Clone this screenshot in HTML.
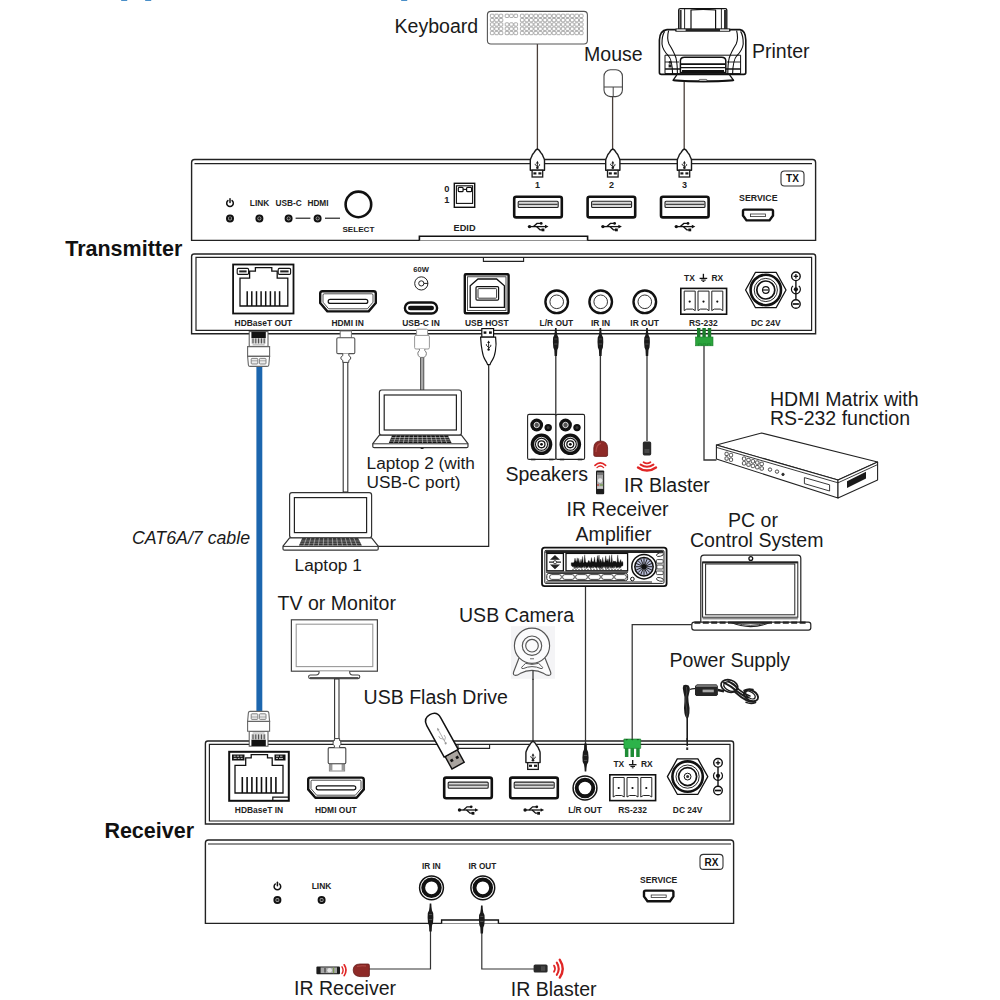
<!DOCTYPE html>
<html><head><meta charset="utf-8">
<style>
html,body{margin:0;padding:0;background:#fff;}
body{width:1000px;height:1000px;overflow:hidden;font-family:"Liberation Sans",sans-serif;}
svg{display:block;position:absolute;left:0;top:0;}
text{font-family:"Liberation Sans",sans-serif;}
.lb{font-size:19.55px;fill:#1a1a1a;}
.ls{font-size:17.25px;fill:#1a1a1a;}
.pl{font-size:8.45px;font-weight:bold;fill:#222;}
.hd{font-size:21.5px;font-weight:bold;fill:#111;}
</style></head><body>
<svg width="1000" height="1000" viewBox="0 0 1000 1000">
<defs>
<!-- USB-A receptacle 50x23 origin top-left -->
<g id="usba">
<rect x="1.2" y="1.2" width="47.6" height="20.6" rx="2" fill="#fff" stroke="#111" stroke-width="2.6"/>
<rect x="5.2" y="5.7" width="40" height="6.2" rx="1" fill="#d8d8d8" stroke="#222" stroke-width="1.1"/>
<line x1="6" y1="8.8" x2="44.6" y2="8.8" stroke="#444" stroke-width="1.3"/>
</g>
<!-- USB trident symbol centered at 0,0 width ~20 -->
<g id="usbsym" stroke="#111" fill="#111" stroke-width="1.3">
<line x1="-8" y1="0" x2="8" y2="0"/>
<circle cx="-8.5" cy="0" r="1.7" stroke="none"/>
<path d="M10.5 0 L7 -1.8 L7 1.8 Z" stroke="none"/>
<path d="M-4.5 0 L-1 -3.2 L2.5 -3.2" fill="none"/>
<circle cx="3.2" cy="-3.2" r="1.4" stroke="none"/>
<path d="M-1.5 0 L2 3.2 L4 3.2" fill="none"/>
<rect x="3.6" y="1.9" width="2.8" height="2.8" stroke="none"/>
</g>
<!-- 3.5mm jack centered -->
<g id="jackT">
<circle r="11.3" fill="#fff" stroke="#111" stroke-width="2.4"/>
<circle r="6.8" fill="#fff" stroke="#333" stroke-width="1"/>
</g>
<g id="jackR">
<circle r="11.9" fill="#fff" stroke="#111" stroke-width="1.5"/>
<circle r="8.3" fill="#fff" stroke="#111" stroke-width="3.9"/>
</g>
<!-- LED -->
<g id="led">
<circle r="3" fill="#bbb" stroke="#111" stroke-width="2"/>
<circle r="1.3" fill="#222"/>
</g>
<!-- power icon -->
<g id="pwr" fill="none" stroke="#111" stroke-width="1.5" stroke-linecap="round">
<path d="M-2.1 -2.4 A3.3 3.3 0 1 0 2.1 -2.4"/>
<line x1="0" y1="-4.2" x2="0" y2="-0.6"/>
</g>
<!-- usb plug (pointing down), origin = center x, top y=0 ; total height 27 -->
<g id="usbplug">
<path d="M0 -1 C-1.6 -0.4 -2.4 0.8 -3.2 2.4 C-4 3.6 -5 4.2 -5.4 5.6 C-5.8 7.4 -7.1 8.2 -7.1 10.4 L-7.1 20.2 L7.1 20.2 L7.1 10.4 C7.1 8.2 5.8 7.4 5.4 5.6 C5 4.2 4 3.6 3.2 2.4 C2.4 0.8 1.6 -0.4 0 -1Z" fill="#fff" stroke="#1a1a1a" stroke-width="1.4" stroke-linejoin="round"/>
<rect x="-5.3" y="20.2" width="10.6" height="6.8" fill="#fff" stroke="#1a1a1a" stroke-width="1.3"/>
<rect x="-4" y="22.3" width="3" height="2.2" fill="#1a1a1a"/>
<rect x="1" y="22.3" width="3" height="2.2" fill="#1a1a1a"/>
<g stroke="#1a1a1a" stroke-width="0.9" fill="#1a1a1a">
<line x1="0" y1="12.6" x2="0" y2="17.6"/>
<path d="M0 10.8 L-1.4 13.4 L1.4 13.4Z" stroke="none"/>
<circle cx="0" cy="17.8" r="1.3" stroke="none"/>
<path d="M0 16.4 L-2.2 14.8 L-2.2 13.8" fill="none"/>
<path d="M0 17 L2.2 15.4 L2.2 14.2" fill="none"/>
</g>
</g>
<!-- 3.5mm plug pointing down; origin center x top -->
<g id="miniplug">
<line x1="0" y1="0" x2="0" y2="8" stroke="#222" stroke-width="1.3"/>
<path d="M-1.3 7 L1.3 7 L1.8 12 L1.8 19 L1 21 L1 27 L-1 27 L-1 21 L-1.8 19 L-1.8 12Z" fill="#222"/>
</g>
<!-- RS232 block 47x27 -->
<g id="rs232">
<rect x="0.8" y="0.8" width="45.8" height="25.8" fill="#fff" stroke="#111" stroke-width="1.6"/>
<g fill="#fff" stroke="#222" stroke-width="1">
<path d="M4.2 3.5 h11 v19.5 l-2.5 -1.5 h-6 l-2.5 1.5Z"/>
<path d="M18 3.5 h11 v19.5 l-2.5 -1.5 h-6 l-2.5 1.5Z"/>
<path d="M31.8 3.5 h11 v19.5 l-2.5 -1.5 h-6 l-2.5 1.5Z"/>
</g>
<circle cx="9.7" cy="14" r="1.1" fill="#111"/><circle cx="23.5" cy="14" r="1.1" fill="#111"/><circle cx="37.3" cy="14" r="1.1" fill="#111"/>
</g>
<!-- ground sym centered -->
<g id="gnd" stroke="#111" stroke-width="1.3" fill="none">
<line x1="0" y1="-4" x2="0" y2="0.6"/><line x1="-3.8" y1="0.6" x2="3.8" y2="0.6"/><line x1="-2.3" y1="2.3" x2="2.3" y2="2.3" stroke-width="1.1"/><line x1="-0.9" y1="3.7" x2="0.9" y2="3.7" stroke-width="1"/>
</g>
<!-- polarity symbol origin center of middle -->
<g id="pol" stroke="#111" fill="none" stroke-width="1.4">
<circle cx="0" cy="-13" r="4.3"/><line x1="-2.2" y1="-13" x2="2.2" y2="-13" stroke-width="1.3"/><line x1="0" y1="-15.2" x2="0" y2="-10.8" stroke-width="1.3"/>
<circle cx="0" cy="14.7" r="4.3"/><line x1="-3" y1="14.7" x2="3" y2="14.7" stroke-width="1.7"/>
<line x1="0" y1="-8.7" x2="0" y2="10.4"/>
<path d="M-2.9 -3.4 A4.5 4.5 0 1 0 2.9 -3.4" stroke-width="1.2"/>
<circle cx="0" cy="0" r="2.1" fill="#111" stroke="none"/>
</g>
<!-- green connector -->
<g id="grn">
<rect x="-7.4" y="9" width="3.5" height="9" fill="#1e8c35"/>
<rect x="-1.8" y="9" width="3.5" height="9" fill="#1e8c35"/>
<rect x="3.9" y="9" width="3.5" height="9" fill="#1e8c35"/>
<path d="M-8.4 0 H8.4 V9.4 H-8.4 Z" fill="#2db34a" stroke="#1d7d2c" stroke-width="0.6"/>
<path d="M-7 0 l1.4 1.6 l1.4 -1.6 M-1.4 0 l1.4 1.6 l1.4 -1.6 M4.2 0 l1.4 1.6 l1.4 -1.6" fill="#145c22" stroke="none"/>
</g>

<!-- RJ45 port 62x51 origin top-left -->
<g id="rj45">
<rect x="0.9" y="0.9" width="60.4" height="49" fill="#fff" stroke="#111" stroke-width="1.8"/>
<path d="M7.8 42.4 V14.6 H17.4 V7.6 H23.2 V4 H39.6 V7.6 H45 V14.6 H55.6 V42.4 Z" fill="#fff" stroke="#111" stroke-width="1.3"/>
<rect x="5" y="4.8" width="11.4" height="6" rx="1.2" fill="#fff" stroke="#111" stroke-width="1.1"/>
<rect x="7" y="6.8" width="7.4" height="2" fill="#222"/>
<rect x="46" y="4.8" width="12.4" height="6" rx="1.2" fill="#fff" stroke="#111" stroke-width="1.1"/>
<rect x="48" y="6.8" width="8.4" height="2" fill="#222"/>
<g stroke="#111" stroke-width="1.5">
<line x1="15" y1="27.6" x2="15" y2="42.4"/><line x1="19.6" y1="27.6" x2="19.6" y2="42.4"/><line x1="24.3" y1="27.6" x2="24.3" y2="42.4"/><line x1="28.9" y1="27.6" x2="28.9" y2="42.4"/><line x1="33.5" y1="27.6" x2="33.5" y2="42.4"/><line x1="38.2" y1="27.6" x2="38.2" y2="42.4"/><line x1="42.8" y1="27.6" x2="42.8" y2="42.4"/><line x1="47.4" y1="27.6" x2="47.4" y2="42.4"/>
</g>
</g>
<!-- HDMI port 58x22.6 origin top-left -->
<g id="hdmi">
<path d="M3.4 1.2 H54.6 Q56.8 1.2 56.8 3.4 V13 L49.6 21.4 H8.4 L1.2 13 V3.4 Q1.2 1.2 3.4 1.2Z" fill="#fff" stroke="#111" stroke-width="2.4" stroke-linejoin="round"/>
<path d="M5.2 3.8 H52.8 Q54 3.8 54 5 V12.2 L48.4 18.8 H9.6 L4 12.2 V5 Q4 3.8 5.2 3.8Z" fill="none" stroke="#222" stroke-width="0.8"/>
<rect x="9.2" y="9.4" width="39.6" height="4" rx="2" fill="#fff" stroke="#111" stroke-width="1.2"/>
</g>
<!-- DC jack hex centered -->
<g id="dcjack">
<path d="M-20.2 0 L-10.3 -17.7 H10.3 L20.2 0 L10.3 17.7 H-10.3 Z" fill="#fff" stroke="#111" stroke-width="1.3" stroke-linejoin="round"/>
<circle r="15.2" fill="#fff" stroke="#111" stroke-width="2.6"/>
<circle r="11.6" fill="none" stroke="#111" stroke-width="0.9"/>
<circle r="9" fill="none" stroke="#111" stroke-width="1.7"/>
</g>

<!-- mini plug, tip UP at y=0, total 28 tall -->
<g id="miniU">
<path d="M-0.8 0 L0.8 0 L1 3.5 L1.5 7 L2.7 9.5 L2.9 14 L2.5 19.5 L1.5 22 L1.2 28 L-1.2 28 L-1.5 22 L-2.5 19.5 L-2.9 14 L-2.7 9.5 L-1.5 7 L-1 3.5 Z" fill="#1a1a1a"/>
<path d="M-1.5 11 h3 M-1.6 16 h3.2" stroke="#666" stroke-width="0.7"/>
</g>
<!-- mini plug, tip DOWN ending at y=28 -->
<g id="miniD">
<path d="M-0.8 28 L0.8 28 L1 24.5 L1.5 21 L2.8 18.5 L3.1 14 L2.6 8.5 L1.5 6 L1.2 0 L-1.2 0 L-1.5 6 L-2.6 8.5 L-3.1 14 L-2.8 18.5 L-1.5 21 L-1 24.5 Z" fill="#1a1a1a"/>
<path d="M-1.6 12 h3.2 M-1.6 17 h3.2" stroke="#666" stroke-width="0.7"/>
</g>
<!-- RJ45 plug, contacts UP. origin center x, top y=0. height ~36 -->
<g id="rjU">
<rect x="-9.4" y="0.2" width="18.8" height="14.8" fill="#fff" stroke="#555" stroke-width="1"/>
<rect x="-7.2" y="0.4" width="14.4" height="6.4" fill="#111"/>
<rect x="-7.2" y="6.8" width="14.4" height="5.4" fill="#ccc"/>
<g stroke="#444" stroke-width="1"><line x1="-5.6" y1="7" x2="-5.6" y2="12"/><line x1="-2.8" y1="7" x2="-2.8" y2="12"/><line x1="0" y1="7" x2="0" y2="12"/><line x1="2.8" y1="7" x2="2.8" y2="12"/><line x1="5.6" y1="7" x2="5.6" y2="12"/></g>
<line x1="-6" y1="13.4" x2="6" y2="13.4" stroke="#999" stroke-width="0.8"/>
<path d="M-11 15.2 H11 V25 H-11 Z" fill="#fff" stroke="#666" stroke-width="1.1"/>
<path d="M-11 25 H11 L10.2 33.6 Q10 35 8.6 35 H-8.6 Q-10 35 -10.2 33.6 Z" fill="#fff" stroke="#666" stroke-width="1.1"/>
<rect x="-7.4" y="27" width="6.6" height="5.6" rx="0.8" fill="#ececec" stroke="#777" stroke-width="0.9"/>
<rect x="0.8" y="27" width="6.6" height="5.6" rx="0.8" fill="#ececec" stroke="#777" stroke-width="0.9"/>
<line x1="-7.4" y1="29.4" x2="-0.8" y2="29.4" stroke="#888" stroke-width="0.7"/><line x1="0.8" y1="29.4" x2="7.4" y2="29.4" stroke="#888" stroke-width="0.7"/>
</g>
<!-- HDMI plug, tip UP. origin center x, top y=0 -->
<g id="hdmiU">
<rect x="-5.6" y="0" width="11.2" height="7" fill="#fff" stroke="#777" stroke-width="1"/>
<rect x="-9" y="6.8" width="18" height="15.8" rx="1.2" fill="#fff" stroke="#555" stroke-width="1.1"/>
<path d="M-3 22.6 V24.6 Q-5 25.6 -5 27 Q-5 28.6 -3 29.4 V31.4 H3 V29.4 Q5 28.6 5 27 Q5 25.6 3 24.6 V22.6" fill="#fff" stroke="#444" stroke-width="1"/>
</g>
<!-- HDMI plug, tip DOWN. origin center x, bottom tip y=0 (extends upward) -->
<g id="hdmiD">
<rect x="-7.6" y="-7.4" width="15.2" height="7.4" fill="#fff" stroke="#888" stroke-width="1"/>
<rect x="-7.2" y="-7.2" width="2.6" height="6.8" fill="#999"/><rect x="4.6" y="-7.2" width="2.6" height="6.8" fill="#999"/>
<rect x="-8.8" y="-23.4" width="17.6" height="16.2" rx="1.2" fill="#fff" stroke="#444" stroke-width="1.1"/>
<path d="M-2.6 -23.4 V-25.2 Q-4 -26.2 -4 -27.8 Q-4 -29.6 -2.6 -30.4 V-32.4 H2.6 V-30.4 Q4 -29.6 4 -27.8 Q4 -26.2 2.6 -25.2 V-23.4" fill="#fff" stroke="#444" stroke-width="1"/>
</g>
</defs>

<rect width="1000" height="1000" fill="#fff"/>

<!-- ===== TX FRONT PANEL ===== -->
<g id="txfront">
<path d="M191.6 240.4 V162.5 Q191.6 159.5 194.6 159.5 H812.6 Q815.6 159.5 815.6 162.5 V240.4 Z" fill="#fff" stroke="#222" stroke-width="1.4"/>
<line x1="194.5" y1="163.6" x2="812" y2="163.6" stroke="#222" stroke-width="1.2"/>
<path d="M419.4 240.4 V236.2 H587.6 V240.4" fill="#fff" stroke="#111" stroke-width="1.6"/>
<use href="#pwr" x="230" y="203"/>
<use href="#led" x="230" y="218.4"/><use href="#led" x="259.4" y="218.4"/><use href="#led" x="288.6" y="218.4"/><use href="#led" x="317.6" y="218.4"/>
<line x1="295.6" y1="218.2" x2="310.4" y2="218.2" stroke="#111" stroke-width="1.1"/>
<line x1="325" y1="218.2" x2="340" y2="218.2" stroke="#111" stroke-width="1.1"/>
<text class="pl" x="259.5" y="205.6" text-anchor="middle" style="font-size:8.3px">LINK</text>
<text class="pl" x="288.7" y="205.6" text-anchor="middle" style="font-size:8.3px">USB-C</text>
<text class="pl" x="318" y="205.6" text-anchor="middle" style="font-size:8.3px">HDMI</text>
<circle cx="358.4" cy="204.4" r="12.8" fill="#fff" stroke="#111" stroke-width="2.6"/>
<text class="pl" x="358.4" y="231.6" text-anchor="middle" style="font-size:8.1px">SELECT</text>
<rect x="454.3" y="183.3" width="20.4" height="24" fill="#fff" stroke="#111" stroke-width="1.4"/>
<rect x="456.4" y="185.8" width="16.2" height="17.6" fill="#fff" stroke="#111" stroke-width="1.1"/>
<rect x="458.3" y="187.3" width="4.8" height="4.4" rx="1" fill="#fff" stroke="#111" stroke-width="1.2"/>
<rect x="466.6" y="187.3" width="5" height="4.4" rx="1" fill="#fff" stroke="#111" stroke-width="1.2"/>
<line x1="463.2" y1="189.4" x2="466.6" y2="189.4" stroke="#111" stroke-width="1.1"/>
<text class="pl" x="446.8" y="191.8" text-anchor="middle" style="font-size:9.3px">0</text>
<text class="pl" x="446.8" y="203.2" text-anchor="middle" style="font-size:9.3px">1</text>
<text class="pl" x="464.6" y="230.5" text-anchor="middle" style="font-size:9.2px">EDID</text>
<use href="#usba" x="513" y="195.6"/><use href="#usba" x="586.4" y="195.6"/><use href="#usba" x="659.8" y="195.6"/>
<use href="#usbsym" x="538" y="226.6"/><use href="#usbsym" x="611.4" y="226.6"/><use href="#usbsym" x="684.8" y="226.6"/>
<text class="pl" x="537.6" y="187.7" text-anchor="middle" style="font-size:9px">1</text>
<text class="pl" x="611.4" y="187.7" text-anchor="middle" style="font-size:9px">2</text>
<text class="pl" x="684.4" y="187.7" text-anchor="middle" style="font-size:9px">3</text>
<text class="pl" x="758.3" y="200.9" text-anchor="middle" style="font-size:8.8px">SERVICE</text>
<path d="M744.5 209.6 H771.5 Q773 209.6 773 211.1 V215.5 L769.5 220.4 H746.5 L743 215.5 V211.1 Q743 209.6 744.5 209.6Z" fill="#fff" stroke="#111" stroke-width="2.4"/>
<rect x="750.5" y="214" width="15" height="2.6" fill="#fff" stroke="#333" stroke-width="0.8"/>
<rect x="781" y="171" width="23" height="15" rx="3.5" fill="#fff" stroke="#333" stroke-width="1.1"/>
<text x="792.5" y="182.2" text-anchor="middle" style="font-size:10px;font-weight:bold;fill:#111">TX</text>
</g>


<!-- ===== TOP DEVICES ===== -->
<g id="topdev">
<g stroke="#4a3f3a" stroke-width="1.3" fill="none">
<line x1="537.4" y1="44" x2="537.4" y2="151"/>
<line x1="612.6" y1="96.6" x2="612.6" y2="151"/>
<line x1="684.2" y1="82" x2="684.2" y2="151"/>
</g>
<rect x="487.4" y="11.4" width="100" height="32.6" rx="3.5" fill="#fff" stroke="#555" stroke-width="1.1"/>
<g fill="#fff" stroke="#8a8a8a" stroke-width="0.7"><rect x="490.4" y="14.2" width="3.6" height="3.3" rx="0.8"/><rect x="494.8" y="14.2" width="3.6" height="3.3" rx="0.8"/><rect x="499.2" y="14.2" width="3.6" height="3.3" rx="0.8"/><rect x="505.2" y="14.2" width="3.6" height="3.3" rx="0.8"/><rect x="509.6" y="14.2" width="3.6" height="3.3" rx="0.8"/><rect x="514.0" y="14.2" width="3.6" height="3.3" rx="0.8"/><rect x="520.4" y="14.2" width="3.6" height="3.3" rx="0.8"/><rect x="524.9" y="14.2" width="3.6" height="3.3" rx="0.8"/><rect x="529.5" y="14.2" width="3.6" height="3.3" rx="0.8"/><rect x="534.0" y="14.2" width="3.6" height="3.3" rx="0.8"/><rect x="538.6" y="14.2" width="3.6" height="3.3" rx="0.8"/><rect x="543.1" y="14.2" width="3.6" height="3.3" rx="0.8"/><rect x="547.7" y="14.2" width="3.6" height="3.3" rx="0.8"/><rect x="552.2" y="14.2" width="3.6" height="3.3" rx="0.8"/><rect x="556.7" y="14.2" width="3.6" height="3.3" rx="0.8"/><rect x="561.3" y="14.2" width="3.6" height="3.3" rx="0.8"/><rect x="565.8" y="14.2" width="3.6" height="3.3" rx="0.8"/><rect x="570.4" y="14.2" width="3.6" height="3.3" rx="0.8"/><rect x="574.9" y="14.2" width="3.6" height="3.3" rx="0.8"/><rect x="579.5" y="14.2" width="3.6" height="3.3" rx="0.8"/><rect x="490.4" y="18.5" width="3.6" height="3.3" rx="0.8"/><rect x="494.8" y="18.5" width="3.6" height="3.3" rx="0.8"/><rect x="499.2" y="18.5" width="3.6" height="3.3" rx="0.8"/><rect x="520.4" y="18.5" width="3.6" height="3.3" rx="0.8"/><rect x="524.9" y="18.5" width="3.6" height="3.3" rx="0.8"/><rect x="529.5" y="18.5" width="3.6" height="3.3" rx="0.8"/><rect x="534.0" y="18.5" width="3.6" height="3.3" rx="0.8"/><rect x="538.6" y="18.5" width="3.6" height="3.3" rx="0.8"/><rect x="543.1" y="18.5" width="3.6" height="3.3" rx="0.8"/><rect x="547.7" y="18.5" width="3.6" height="3.3" rx="0.8"/><rect x="552.2" y="18.5" width="3.6" height="3.3" rx="0.8"/><rect x="556.7" y="18.5" width="3.6" height="3.3" rx="0.8"/><rect x="561.3" y="18.5" width="3.6" height="3.3" rx="0.8"/><rect x="565.8" y="18.5" width="3.6" height="3.3" rx="0.8"/><rect x="570.4" y="18.5" width="3.6" height="3.3" rx="0.8"/><rect x="574.9" y="18.5" width="3.6" height="3.3" rx="0.8"/><rect x="579.5" y="18.5" width="3.6" height="3.3" rx="0.8"/><rect x="490.4" y="22.8" width="3.6" height="3.3" rx="0.8"/><rect x="494.8" y="22.8" width="3.6" height="3.3" rx="0.8"/><rect x="499.2" y="22.8" width="3.6" height="3.3" rx="0.8"/><rect x="505.2" y="22.8" width="3.6" height="3.3" rx="0.8"/><rect x="509.6" y="22.8" width="3.6" height="3.3" rx="0.8"/><rect x="514.0" y="22.8" width="3.6" height="3.3" rx="0.8"/><rect x="520.4" y="22.8" width="3.6" height="3.3" rx="0.8"/><rect x="524.9" y="22.8" width="3.6" height="3.3" rx="0.8"/><rect x="529.5" y="22.8" width="3.6" height="3.3" rx="0.8"/><rect x="534.0" y="22.8" width="3.6" height="3.3" rx="0.8"/><rect x="538.6" y="22.8" width="3.6" height="3.3" rx="0.8"/><rect x="543.1" y="22.8" width="3.6" height="3.3" rx="0.8"/><rect x="547.7" y="22.8" width="3.6" height="3.3" rx="0.8"/><rect x="552.2" y="22.8" width="3.6" height="3.3" rx="0.8"/><rect x="556.7" y="22.8" width="3.6" height="3.3" rx="0.8"/><rect x="561.3" y="22.8" width="3.6" height="3.3" rx="0.8"/><rect x="565.8" y="22.8" width="3.6" height="3.3" rx="0.8"/><rect x="570.4" y="22.8" width="3.6" height="3.3" rx="0.8"/><rect x="574.9" y="22.8" width="3.6" height="3.3" rx="0.8"/><rect x="579.5" y="22.8" width="3.6" height="3.3" rx="0.8"/><rect x="490.4" y="27.1" width="3.6" height="3.3" rx="0.8"/><rect x="494.8" y="27.1" width="3.6" height="3.3" rx="0.8"/><rect x="499.2" y="27.1" width="3.6" height="3.3" rx="0.8"/><rect x="505.2" y="27.1" width="3.6" height="3.3" rx="0.8"/><rect x="509.6" y="27.1" width="3.6" height="3.3" rx="0.8"/><rect x="514.0" y="27.1" width="3.6" height="3.3" rx="0.8"/><rect x="520.4" y="27.1" width="3.6" height="3.3" rx="0.8"/><rect x="524.9" y="27.1" width="3.6" height="3.3" rx="0.8"/><rect x="529.5" y="27.1" width="3.6" height="3.3" rx="0.8"/><rect x="534.0" y="27.1" width="3.6" height="3.3" rx="0.8"/><rect x="538.6" y="27.1" width="3.6" height="3.3" rx="0.8"/><rect x="543.1" y="27.1" width="3.6" height="3.3" rx="0.8"/><rect x="547.7" y="27.1" width="3.6" height="3.3" rx="0.8"/><rect x="552.2" y="27.1" width="3.6" height="3.3" rx="0.8"/><rect x="556.7" y="27.1" width="3.6" height="3.3" rx="0.8"/><rect x="561.3" y="27.1" width="3.6" height="3.3" rx="0.8"/><rect x="565.8" y="27.1" width="3.6" height="3.3" rx="0.8"/><rect x="570.4" y="27.1" width="3.6" height="3.3" rx="0.8"/><rect x="574.9" y="27.1" width="3.6" height="3.3" rx="0.8"/><rect x="579.5" y="27.1" width="3.6" height="3.3" rx="0.8"/><rect x="490.4" y="31.4" width="3.6" height="3.3" rx="0.8"/><rect x="494.8" y="31.4" width="3.6" height="3.3" rx="0.8"/><rect x="499.2" y="31.4" width="3.6" height="3.3" rx="0.8"/><rect x="505.2" y="31.4" width="3.6" height="3.3" rx="0.8"/><rect x="509.6" y="31.4" width="3.6" height="3.3" rx="0.8"/><rect x="514.0" y="31.4" width="3.6" height="3.3" rx="0.8"/><rect x="520.4" y="31.4" width="3.6" height="3.3" rx="0.8"/><rect x="524.9" y="31.4" width="3.6" height="3.3" rx="0.8"/><rect x="529.5" y="31.4" width="3.6" height="3.3" rx="0.8"/><rect x="534.0" y="31.4" width="3.6" height="3.3" rx="0.8"/><rect x="538.6" y="31.4" width="3.6" height="3.3" rx="0.8"/><rect x="543.1" y="31.4" width="3.6" height="3.3" rx="0.8"/><rect x="547.7" y="31.4" width="3.6" height="3.3" rx="0.8"/><rect x="552.2" y="31.4" width="3.6" height="3.3" rx="0.8"/><rect x="556.7" y="31.4" width="3.6" height="3.3" rx="0.8"/><rect x="561.3" y="31.4" width="3.6" height="3.3" rx="0.8"/><rect x="565.8" y="31.4" width="3.6" height="3.3" rx="0.8"/><rect x="570.4" y="31.4" width="3.6" height="3.3" rx="0.8"/><rect x="574.9" y="31.4" width="3.6" height="3.3" rx="0.8"/><rect x="579.5" y="31.4" width="3.6" height="3.3" rx="0.8"/></g>
<rect x="604" y="69.8" width="18.4" height="26.8" rx="6.5" fill="#fff" stroke="#444" stroke-width="1.1"/>
<line x1="604" y1="87" x2="622.4" y2="87" stroke="#444" stroke-width="1"/>
<line x1="613.2" y1="87" x2="613.2" y2="96.6" stroke="#444" stroke-width="1"/>

<g id="printer" fill="#fff" stroke="#111" stroke-linejoin="round">
<!-- paper tray -->
<path d="M678.7 29.5 V10 Q678.7 8.6 680.2 8.6 H725.4 Q726.8 8.6 726.8 10 V29.5 Z" stroke-width="1.3"/>
<rect x="679.6" y="10" width="2" height="19" fill="#333" stroke="none"/>
<rect x="724" y="10" width="2" height="19" fill="#333" stroke="none"/>
<line x1="684.6" y1="9" x2="684.6" y2="29" stroke-width="0.9"/>
<line x1="721.4" y1="9" x2="721.4" y2="29" stroke-width="0.9"/>
<path d="M691 29.5 V10 Q703 8.6 715.6 10 V29.5" stroke-width="1.2"/>
<!-- body -->
<path d="M667 29.6 H740 Q745.6 30.6 745.8 40 V72.5 Q745.8 74.4 744 74.4 H661.4 Q659.4 74.4 659.4 72.5 V40 Q659.6 30.6 667 29.6Z" stroke-width="1.6"/>
<path d="M664.6 31.4 Q661.8 36 662 44 Q662.6 50 668.6 56 Q672.2 60 672.6 74" fill="none" stroke-width="1.1"/>
<path d="M668.6 30.6 Q666.6 38 669 44 Q674 52 676 58 Q677.4 64 677.4 74" fill="none" stroke-width="1.1"/>
<path d="M740.6 31.4 Q743.4 36 743.2 44 Q742.6 50 736.6 56 Q733 60 732.6 74" fill="none" stroke-width="1.1"/>
<path d="M736.6 30.6 Q738.6 38 736.2 44 Q731.2 52 729.2 58 Q727.8 64 727.8 74" fill="none" stroke-width="1.1"/>
<rect x="675" y="28.4" width="55.6" height="3.4" rx="1.2" fill="#222" stroke="none"/>
<rect x="676.6" y="29.4" width="9" height="1.4" fill="#fff" stroke="none"/><rect x="720" y="29.4" width="9" height="1.4" fill="#fff" stroke="none"/>
<!-- front band -->
<path d="M665 55.2 H740.6 V73.6 H665 Z" fill="none" stroke-width="1"/>
<line x1="665" y1="62" x2="679" y2="62" stroke-width="0.9"/><line x1="727" y1="62" x2="740.6" y2="62" stroke-width="0.9"/>
<line x1="665" y1="69" x2="740.6" y2="69" stroke-width="1.4"/>
<circle cx="670" cy="62.4" r="1.3" fill="#222" stroke="none"/><rect x="668.6" y="64.4" width="3" height="3" fill="#222" stroke="none"/>
<path d="M680.4 72.6 V60.6 Q680.6 57.2 684.4 57.2 H721.6 Q725.6 57.2 725.8 60.6 V72.6 Z" stroke-width="1.5"/>
<path d="M681 64.2 H725" stroke-width="1.8" fill="none"/>
<path d="M683 66.2 h4.5 m3 0 h5 m3 0 h5 m3 0 h5 m3 0 h5" stroke-width="1.3" stroke="#fff" fill="none"/>
<path d="M681 67.6 H725" stroke-width="1.2" fill="none"/>
<path d="M682 71.2 H724" stroke-width="2.2" fill="none"/>
<!-- tray -->
<path d="M677 74.6 H729.4 L733.6 80.4 Q703 82.4 673 80.4 Z" stroke-width="1.3"/>
<path d="M673.4 80.2 Q703 82.6 733.4 80.2" stroke-width="2" fill="none"/>
<rect x="699" y="79.4" width="8" height="1.6" rx="0.8" fill="#fff" stroke-width="0.6"/>
</g>
<use href="#usbplug" x="537.4" y="150"/>
<use href="#usbplug" x="612.8" y="150"/>
<use href="#usbplug" x="684.4" y="150"/>
</g>

<!-- ===== TX REAR PANEL ===== -->
<g id="txrear">
<path d="M191.6 333.8 V256.5 Q191.6 254 194.1 254 H813.1 Q815.6 254 815.6 256.5 V333.8 Z" fill="#fff" stroke="#222" stroke-width="1.4"/>
<path d="M196 330.4 V257.4 H811.6 V330.4 Z" fill="none" stroke="#222" stroke-width="1.2"/>
<path d="M483.4 257.4 V261.4 H523.6 V257.4" fill="none" stroke="#222" stroke-width="1.1"/>
<use href="#rj45" x="232.2" y="263.6"/>
<text class="pl" x="263.4" y="326.2" text-anchor="middle">HDBaseT OUT</text>
<use href="#hdmi" x="319" y="290"/>
<text class="pl" x="347.6" y="326.2" text-anchor="middle">HDMI IN</text>
<text class="pl" x="421" y="272.2" text-anchor="middle" style="font-size:7.6px">60W</text>
<g fill="none" stroke="#222" stroke-width="1"><circle cx="421.3" cy="283.4" r="6.6"/><circle cx="421.3" cy="283.4" r="2.6"/><line x1="423.9" y1="283.4" x2="428" y2="283.4"/></g>
<rect x="404.9" y="302.5" width="32.2" height="11" rx="5.5" fill="#fff" stroke="#111" stroke-width="2.4"/>
<rect x="408" y="305.7" width="26" height="4.6" rx="2.3" fill="#111"/>
<text class="pl" x="421" y="326.2" text-anchor="middle">USB-C IN</text>
<rect x="464.8" y="274.2" width="43.8" height="39" rx="1" fill="#fff" stroke="#111" stroke-width="2.4"/>
<rect x="467.4" y="276.8" width="38.6" height="33.8" fill="none" stroke="#222" stroke-width="0.8"/>
<path d="M470.2 307.4 V285.8 L478 279 H496.6 L504.4 285.8 V307.4 Z" fill="#fff" stroke="#111" stroke-width="1.3"/>
<rect x="476" y="286.6" width="22.6" height="13.6" rx="1.2" fill="#fff" stroke="#111" stroke-width="1.2"/>
<rect x="478" y="288.6" width="18.6" height="9.6" rx="0.8" fill="#fff" stroke="#222" stroke-width="0.9"/>
<text class="pl" x="486.8" y="326.2" text-anchor="middle">USB HOST</text>
<use href="#jackT" x="556.7" y="301.8"/><use href="#jackT" x="600.7" y="301.8"/><use href="#jackT" x="644.8" y="301.8"/>
<text class="pl" x="556.4" y="326.2" text-anchor="middle">L/R OUT</text>
<text class="pl" x="600.6" y="326.2" text-anchor="middle">IR IN</text>
<text class="pl" x="644.6" y="326.2" text-anchor="middle">IR OUT</text>
<use href="#rs232" x="680" y="287.6"/>
<text class="pl" x="689.5" y="280.8" text-anchor="middle">TX</text>
<text class="pl" x="717.4" y="280.8" text-anchor="middle">RX</text>
<use href="#gnd" x="703.4" y="277.8"/>
<text class="pl" x="703.3" y="326.2" text-anchor="middle">RS-232</text>
<use href="#dcjack" x="765.8" y="290"/>
<circle cx="765.8" cy="290" r="3.3" fill="#fff" stroke="#111" stroke-width="1.2"/><line x1="763" y1="290" x2="768.6" y2="290" stroke="#111" stroke-width="1.2"/>
<text class="pl" x="765.8" y="326.2" text-anchor="middle">DC 24V</text>
<use href="#pol" x="795.9" y="289.3"/>
</g>



<!-- ===== MIDDLE: cables & plugs below TX ===== -->
<g id="mid">
<!-- blue CAT cable -->
<rect x="256.4" y="366" width="5.9" height="346" fill="#1c66ae"/>
<use href="#rjU" x="258.6" y="331.4"/>
<!-- HDMI cable to laptop 1 -->
<rect x="343.2" y="362" width="4.6" height="130" fill="#fff" stroke="#333" stroke-width="1.1"/>
<use href="#hdmiU" x="345.8" y="331"/>
<!-- USB-C cable to laptop 2 -->
<rect x="420.6" y="357" width="3.2" height="33.6" fill="#aaa" stroke="#444" stroke-width="0.9"/>
<g fill="#fff" stroke="#999" stroke-width="1">
<rect x="416.6" y="329.2" width="11" height="6.4" rx="1"/>
<rect x="414.6" y="335.4" width="14.8" height="13.6" rx="1.4"/>
<path d="M419.4 349 V350.6 Q417.8 351.8 417.8 353.6 Q417.8 355.6 420 357.4 H424.2 Q426.4 355.6 426.4 353.6 Q426.4 351.8 424.8 350.6 V349" stroke="#777"/>
</g>
<!-- USB-A plug (tip up) for USB HOST -->
<g fill="#fff" stroke="#111" stroke-width="1.2">
<rect x="481.8" y="328.6" width="11.8" height="8.6"/>
<path d="M480.6 337.2 H495.6 Q496.6 345 495.4 351 Q494.4 357 492.6 359.6 Q490.6 362.6 490 364.6 H487.6 Q487 362.6 485 359.6 Q483.2 357 482.2 351 Q481 345 480.6 337.2Z"/>
</g>
<rect x="483.6" y="331.4" width="2.8" height="2.4" fill="#111"/><rect x="489" y="331.4" width="2.8" height="2.4" fill="#111"/>
<g stroke="#111" stroke-width="0.9" fill="#111">
<line x1="488.6" y1="342" x2="488.6" y2="349"/>
<path d="M488.6 340.4 L487.2 343 L490 343Z" stroke="none"/>
<circle cx="488.6" cy="349.6" r="1.2" stroke="none"/>
<path d="M488.6 347.4 L486.4 345.4 L486.4 344.2" fill="none"/><path d="M488.6 348.2 L490.8 346.2 L490.8 344.8" fill="none"/>
</g>
<path d="M488.7 364.6 V546.4 H377.6" fill="none" stroke="#222" stroke-width="1.2"/>
<!-- mini plugs under TX -->
<g stroke="#333" stroke-width="1.3" fill="none">
<line x1="555.8" y1="355" x2="555.8" y2="414.4"/>
<line x1="600.4" y1="355" x2="600.4" y2="441"/>
<line x1="647" y1="355" x2="647" y2="441"/>
<path d="M704 345 V460 H716.4"/>
</g>
<use href="#miniU" x="555.8" y="328"/><use href="#miniU" x="600.4" y="328"/><use href="#miniU" x="647" y="328"/>
<!-- green connector TX (pins up) -->
<g>
<rect x="697" y="328" width="3.4" height="9.4" fill="#1b7d2b"/><rect x="702.4" y="328" width="3.4" height="9.4" fill="#1b7d2b"/><rect x="707.8" y="328" width="3.4" height="9.4" fill="#1b7d2b"/>
<rect x="695.6" y="337" width="17.4" height="8.8" fill="#2aa43c" stroke="#1d7d2c" stroke-width="0.6"/>
<path d="M698.4 345.8 v-2 h3 v2 M702.9 345.8 v-2 h3 v2 M707.4 345.8 v-2 h3 v2" fill="none" stroke="#1d7d2c" stroke-width="0.6"/>
</g>
</g>


<!-- ===== DEVICES ===== -->
<g id="devices">
<g>
<rect x="379.4" y="390" width="82" height="45.4" rx="2.4" fill="#fff" stroke="#333" stroke-width="1.2"/>
<rect x="384.2" y="395" width="72.2" height="35" fill="#fff" stroke="#222" stroke-width="1.2"/>
<path d="M379.4 435.2 L372.79999999999995 443.6 V446.4 Q372.79999999999995 447.6 374.2 447.6 H466.59999999999997 Q468.0 447.6 468.0 446.4 V443.6 L461.4 435.2 Z" fill="#fff" stroke="#333" stroke-width="1.2" stroke-linejoin="round"/>
<line x1="372.79999999999995" y1="443.8" x2="468.0" y2="443.8" stroke="#333" stroke-width="1"/>
<path d="M392.0 435.6 H448.0 L451.6 443.0 H388.8 Z" fill="#151515"/><g stroke="#f2f2f2" stroke-width="0.5"><line x1="396.3" y1="435.6" x2="393.6" y2="443.0"/><line x1="400.6" y1="435.6" x2="398.5" y2="443.0"/><line x1="404.9" y1="435.6" x2="403.3" y2="443.0"/><line x1="409.2" y1="435.6" x2="408.1" y2="443.0"/><line x1="413.5" y1="435.6" x2="413.0" y2="443.0"/><line x1="417.8" y1="435.6" x2="417.8" y2="443.0"/><line x1="422.2" y1="435.6" x2="422.6" y2="443.0"/><line x1="426.5" y1="435.6" x2="427.4" y2="443.0"/><line x1="430.8" y1="435.6" x2="432.3" y2="443.0"/><line x1="435.1" y1="435.6" x2="437.1" y2="443.0"/><line x1="439.4" y1="435.6" x2="441.9" y2="443.0"/><line x1="443.7" y1="435.6" x2="446.8" y2="443.0"/><line x1="391.2" y1="437.5" x2="448.9" y2="437.5"/><line x1="390.4" y1="439.3" x2="449.8" y2="439.3"/><line x1="389.6" y1="441.1" x2="450.7" y2="441.1"/></g>
</g>
<g>
<rect x="289.6" y="492.6" width="82" height="45.4" rx="2.4" fill="#fff" stroke="#333" stroke-width="1.2"/>
<rect x="294.40000000000003" y="497.6" width="72.2" height="35" fill="#fff" stroke="#222" stroke-width="1.2"/>
<path d="M289.6 537.8000000000001 L283.0 546.2 V549.0 Q283.0 550.2 284.40000000000003 550.2 H376.8 Q378.20000000000005 550.2 378.20000000000005 549.0 V546.2 L371.6 537.8000000000001 Z" fill="#fff" stroke="#333" stroke-width="1.2" stroke-linejoin="round"/>
<line x1="283.0" y1="546.4" x2="378.20000000000005" y2="546.4" stroke="#333" stroke-width="1"/>
<path d="M302.2 538.2 H358.2 L361.8 545.6 H299.0 Z" fill="#151515"/><g stroke="#f2f2f2" stroke-width="0.5"><line x1="306.5" y1="538.2" x2="303.8" y2="545.6"/><line x1="310.8" y1="538.2" x2="308.7" y2="545.6"/><line x1="315.1" y1="538.2" x2="313.5" y2="545.6"/><line x1="319.4" y1="538.2" x2="318.3" y2="545.6"/><line x1="323.7" y1="538.2" x2="323.2" y2="545.6"/><line x1="328.0" y1="538.2" x2="328.0" y2="545.6"/><line x1="332.4" y1="538.2" x2="332.8" y2="545.6"/><line x1="336.7" y1="538.2" x2="337.6" y2="545.6"/><line x1="341.0" y1="538.2" x2="342.5" y2="545.6"/><line x1="345.3" y1="538.2" x2="347.3" y2="545.6"/><line x1="349.6" y1="538.2" x2="352.1" y2="545.6"/><line x1="353.9" y1="538.2" x2="357.0" y2="545.6"/><line x1="301.4" y1="540.1" x2="359.1" y2="540.1"/><line x1="300.6" y1="541.9" x2="360.0" y2="541.9"/><line x1="299.8" y1="543.8" x2="360.9" y2="543.8"/></g>
</g>
<rect x="420.6" y="447.8" width="3" height="1.3" rx="0.6" fill="#222"/>

<!-- speakers -->
<g>
<rect x="527.6" y="414.4" width="28.4" height="45" rx="1.5" fill="#fff" stroke="#222" stroke-width="1.1"/>
<rect x="556" y="414.4" width="28.6" height="45" rx="1.5" fill="#fff" stroke="#222" stroke-width="1.1"/>
<g id="spk1">
<circle cx="536.7" cy="425" r="6.4" fill="#111"/><circle cx="536.7" cy="425" r="2.7" fill="#555" stroke="#eee" stroke-width="0.9"/>
<circle cx="548.2" cy="427.6" r="3.7" fill="#111"/><circle cx="548.2" cy="427.6" r="1.5" fill="#3a3a3a"/>
<circle cx="541.5" cy="444.3" r="10.8" fill="#111"/><circle cx="541.5" cy="444.3" r="7" fill="none" stroke="#fff" stroke-width="0.8"/><circle cx="541.5" cy="444.3" r="4.8" fill="none" stroke="#fff" stroke-width="1.4"/><circle cx="541.5" cy="444.3" r="2.8" fill="#fff"/><circle cx="541.5" cy="444.3" r="1.4" fill="#111"/>
<rect x="531" y="458.8" width="4.4" height="1.5" fill="#222"/><rect x="549" y="458.8" width="4.4" height="1.5" fill="#222"/>
</g>
<use href="#spk1" x="28.8" y="0"/>
</g>

<!-- IR receiver (TX side) -->
<path d="M593.8 455 V448 Q594 441 600.6 441 Q607.4 441 607.6 448 V455 Q607.6 456.4 606 456.4 H595.4 Q593.8 456.4 593.8 455Z" fill="#8e2a27" stroke="#651b19" stroke-width="0.8"/>
<path d="M596 452 Q596.4 444 601 443.4" fill="none" stroke="#c05a55" stroke-width="1.1" opacity="0.7"/>
<g fill="none" stroke="#e02626" stroke-width="1.1" stroke-linecap="round">
<path d="M595 465.4 Q600.3 460.4 605.6 465.4" stroke-width="1.7"/><path d="M597 467.6 Q600.3 464.4 603.6 467.6" stroke-width="1.3"/>
</g>
<rect x="596" y="470.4" width="8.2" height="23.8" rx="1" fill="#1c1c1c"/>
<rect x="597" y="472.6" width="6.2" height="16.4" fill="#a6a6a6"/><rect x="597" y="472.6" width="6.2" height="2.4" fill="#777"/>
<circle cx="600.1" cy="480.6" r="2.3" fill="#e8e8e8"/>
<rect x="597" y="484.4" width="2" height="1.2" fill="#c0392b"/><rect x="600" y="484.4" width="3.2" height="1.2" fill="#6fa04a"/><rect x="597.4" y="486.4" width="5.4" height="2" fill="#ccc"/>


<!-- IR blaster (TX side) -->
<rect x="642.8" y="441.4" width="8.4" height="14" rx="1.6" fill="#2a2a2a"/>
<rect x="644.4" y="449" width="5" height="4" fill="#555" opacity="0.7"/>
<g fill="none" stroke="#e02626" stroke-linecap="round">
<path d="M643.6 462.2 Q647 464.4 650.4 462.2" stroke-width="1.8"/>
<path d="M640.6 464.6 Q647 468.8 653.4 464.6" stroke-width="2.1"/>
<path d="M638 467.4 Q647 473.8 656 467.4" stroke-width="2.4"/>
</g>

<!-- HDMI matrix -->
<g fill="#fff" stroke="#222" stroke-width="1.1" stroke-linejoin="round">
<path d="M716.4 445 L761.6 433 L877.6 462 L838 480 Z"/>
<path d="M716.4 445 V459 L838 498 V480 Z"/>
<path d="M838 480 L877.6 462 V480 L838 498 Z"/>
<path d="M716.4 447.4 L838 482.8" fill="none" stroke-width="0.9"/>
<path d="M838 482.8 L877.6 464.6" fill="none" stroke-width="0.9"/>
<path d="M847 481.2 L866 471.8 V478.4 L847 488 Z" fill="#1a1a1a" stroke="none"/>
<path d="M804.4 477.6 L829.6 484.8 V491 L804.4 483.6 Z" stroke-width="0.9"/>
</g>
<g fill="#fff" stroke="#222" stroke-width="0.8">
<rect x="725" y="452.2" width="3.2" height="3.4" rx="1"/><rect x="729.4" y="453.4" width="3.2" height="3.4" rx="1"/>
<rect x="725" y="456.8" width="3.2" height="3.4" rx="1"/><rect x="729.4" y="458" width="3.2" height="3.4" rx="1"/>
<rect x="742.4" y="457" width="3.4" height="3.4" rx="1"/><rect x="746.8" y="458.3" width="3.4" height="3.4" rx="1"/><rect x="751.2" y="459.6" width="3.4" height="3.4" rx="1"/><rect x="755.6" y="460.9" width="3.4" height="3.4" rx="1"/><rect x="760" y="462.2" width="3.4" height="3.4" rx="1"/>
<rect x="742.4" y="461.6" width="3.4" height="3.4" rx="1"/><rect x="746.8" y="462.9" width="3.4" height="3.4" rx="1"/><rect x="751.2" y="464.2" width="3.4" height="3.4" rx="1"/><rect x="755.6" y="465.5" width="3.4" height="3.4" rx="1"/><rect x="760" y="466.8" width="3.4" height="3.4" rx="1"/>
<circle cx="770" cy="469.6" r="1.7"/><circle cx="777" cy="471.6" r="1.7"/><circle cx="783" cy="474.4" r="1.2" fill="#333"/>
</g>
</g>


<!-- ===== DEVICES 2 ===== -->
<g id="devices2">
<!-- cables first -->
<g fill="none" stroke="#333" stroke-width="1.25">
<line x1="585.5" y1="586" x2="585.5" y2="745"/>
<path d="M691.7 624.6 H632.2 V740"/>
<line x1="533" y1="670.4" x2="533" y2="742"/>
</g>
<!-- amplifier -->
<rect x="542" y="547.6" width="124.6" height="38.6" rx="2.6" fill="#fff" stroke="#111" stroke-width="1.8"/>
<rect x="544.8" y="550.4" width="119.2" height="33" rx="1.2" fill="#fff" stroke="#222" stroke-width="1"/>
<rect x="545.4" y="551" width="118" height="2" fill="#222"/>
<rect x="546.8" y="553.4" width="16.6" height="17.4" fill="#fff" stroke="#111" stroke-width="1.3"/>
<path d="M555 556 l3.4 3.2 h-6.8z M555 568.4 l3.4 -3.2 h-6.8z M549 562.2 h12" fill="#222" stroke="#222" stroke-width="1.3"/>
<circle cx="555" cy="562.2" r="1.6" fill="#fff" stroke="#222" stroke-width="0.8"/>
<rect x="566" y="553.4" width="61.6" height="17.4" fill="#fff" stroke="#111" stroke-width="1.3"/>
<path d="M571.2 562.8 L572.0 562.8 L572.7 562.7 L573.5 562.7 L574.2 561.8 L575.0 558.1 L575.7 560.8 L576.5 562.0 L577.2 557.8 L578.0 561.9 L578.7 558.3 L579.5 562.4 L580.2 562.7 L581.0 559.2 L581.7 562.6 L582.5 556.4 L583.2 562.8 L584.0 562.8 L584.7 554.7 L585.5 561.4 L586.2 562.4 L587.0 562.7 L587.7 562.5 L588.5 560.6 L589.2 560.7 L590.0 562.7 L590.7 561.5 L591.5 557.6 L592.2 561.8 L593.0 561.5 L593.7 562.1 L594.5 557.1 L595.2 561.4 L596.0 562.7 L596.7 561.7 L597.5 555.6 L598.2 560.7 L599.0 555.0 L599.7 562.4 L600.5 559.0 L601.2 560.7 L602.0 562.8 L602.7 557.4 L603.5 562.0 L604.2 562.5 L605.0 561.3 L605.7 555.8 L606.5 560.8 L607.2 561.1 L608.0 558.8 L608.7 562.4 L609.5 555.4 L610.2 562.4 L611.0 561.9 L611.7 554.6 L612.5 562.7 L613.2 561.6 L614.0 560.8 L614.7 561.6 L615.5 561.2 L616.2 561.8 L617.0 562.7 L617.7 554.9 L618.5 561.2 L619.2 562.7 L620.0 561.3 L620.7 559.5 L621.5 562.7 L622.2 561.3 L623.0 562.8 L623.0 565.6 L622.2 566.1 L621.5 566.0 L620.7 567.9 L620.0 566.5 L619.2 568.6 L618.5 566.7 L617.7 567.9 L617.0 566.7 L616.2 568.4 L615.5 566.1 L614.7 568.1 L614.0 566.1 L613.2 568.5 L612.5 567.2 L611.7 568.5 L611.0 566.2 L610.2 568.4 L609.5 566.3 L608.7 568.7 L608.0 566.1 L607.2 569.2 L606.5 566.2 L605.7 569.0 L605.0 566.1 L604.2 567.7 L603.5 566.2 L602.7 568.7 L602.0 566.1 L601.2 569.4 L600.5 567.2 L599.7 569.1 L599.0 566.4 L598.2 568.3 L597.5 566.5 L596.7 568.8 L596.0 566.9 L595.2 567.7 L594.5 566.4 L593.7 568.3 L593.0 566.0 L592.2 568.3 L591.5 567.0 L590.7 569.0 L590.0 566.4 L589.2 567.9 L588.5 566.1 L587.7 568.0 L587.0 566.7 L586.2 568.7 L585.5 566.1 L584.7 568.3 L584.0 566.1 L583.2 567.7 L582.5 567.1 L581.7 568.6 L581.0 566.5 L580.2 568.2 L579.5 567.1 L578.7 568.0 L578.0 566.1 L577.2 568.8 L576.5 566.9 L575.7 568.6 L575.0 566.1 L574.2 568.9 L573.5 566.2 L572.7 567.1 L572.0 565.9 L571.2 565.6Z" fill="#111" stroke="#111" stroke-width="0.3" stroke-linejoin="miter"/><line x1="572" y1="569.4" x2="622" y2="569.4" stroke="#333" stroke-width="0.6" stroke-dasharray="2 1"/>
<line x1="546" y1="572.2" x2="628" y2="572.2" stroke="#222" stroke-width="1.3"/>
<rect x="546.8" y="573.4" width="80.8" height="7.2" rx="2" fill="#fff" stroke="#222" stroke-width="1"/>
<g fill="#fff" stroke="#333" stroke-width="0.9"><rect x="549.6" y="574.6" width="11.8" height="4.8" rx="2.2"/><rect x="562.6" y="574.6" width="11.8" height="4.8" rx="2.2"/><rect x="575.6" y="574.6" width="11.8" height="4.8" rx="2.2"/><rect x="588.6" y="574.6" width="11.8" height="4.8" rx="2.2"/><rect x="601.6" y="574.6" width="11.8" height="4.8" rx="2.2"/><rect x="614.6" y="574.6" width="11.8" height="4.8" rx="2.2"/></g>
<line x1="546" y1="582" x2="652" y2="582" stroke="#222" stroke-width="1.2"/>
<circle cx="632.4" cy="579" r="1.8" fill="#fff" stroke="#111" stroke-width="1"/>
<circle cx="644" cy="566.7" r="12.2" fill="#fff" stroke="#111" stroke-width="1.5"/>
<circle cx="644" cy="566.7" r="9.2" fill="#b9bedb" stroke="#111" stroke-width="1.5"/>
<path d="M646.2 566.7 L652.6 566.7 M646.0 567.5 L651.9 570.0 M645.6 568.3 L650.1 572.8 M644.8 568.7 L647.3 574.6 M644.0 568.9 L644.0 575.3 M643.2 568.7 L640.7 574.6 M642.4 568.3 L637.9 572.8 M642.0 567.5 L636.1 570.0 M641.8 566.7 L635.4 566.7 M642.0 565.9 L636.1 563.4 M642.4 565.1 L637.9 560.6 M643.2 564.7 L640.7 558.8 M644.0 564.5 L644.0 558.1 M644.8 564.7 L647.3 558.8 M645.6 565.1 L650.1 560.6 M646.0 565.9 L651.9 563.4 " stroke="#222" stroke-width="1" fill="none"/>
<circle cx="644" cy="566.7" r="2.6" fill="#111"/>
<g fill="#fff" stroke="#333" stroke-width="0.9">
<ellipse cx="660" cy="554.6" rx="3.6" ry="1.7" transform="rotate(-14 660 554.6)"/>
<rect x="656.4" y="559.6" width="6.8" height="3.6" rx="1"/><rect x="656.8" y="565" width="6.4" height="4" rx="1"/><rect x="656.4" y="571" width="6.8" height="3.6" rx="1"/>
<ellipse cx="660" cy="579.4" rx="3.6" ry="1.7" transform="rotate(14 660 579.4)"/>
</g>

<!-- PC laptop -->
<path d="M700.8 622 V558.4 Q700.8 555.2 704 555.2 H797.6 Q800.8 555.2 800.8 558.4 V622" fill="#fff" stroke="#222" stroke-width="1.2"/>
<rect x="702.6" y="562" width="95.2" height="55.2" fill="#fff" stroke="#222" stroke-width="1"/>
<rect x="702.6" y="561.6" width="95.2" height="1.8" fill="#222"/>
<rect x="705.6" y="564" width="89.2" height="50.8" fill="#fff" stroke="#222" stroke-width="1"/>
<line x1="702.6" y1="618.8" x2="797.8" y2="618.8" stroke="#333" stroke-width="0.8"/>
<circle cx="750.8" cy="558.5" r="1.9" fill="#fff" stroke="#111" stroke-width="1.3"/>
<rect x="691.8" y="622.2" width="119" height="8" rx="2.4" fill="#fff" stroke="#222" stroke-width="1.2"/>
<path d="M694.4 622.6 h6 m2.4 0 h6 m2.4 0 h6 m2.4 0 h6 m2.4 0 h44 m2.4 0 h6 m2.4 0 h6 m2.4 0 h6 m2.4 0 h6" stroke="#222" stroke-width="2.2" fill="none"/>
<path d="M731 622.6 Q750.6 630.6 770 622.6" fill="none" stroke="#222" stroke-width="1.1"/>
<path d="M734 622.6 Q750.6 628 767 622.6" fill="none" stroke="#222" stroke-width="0.9"/>

<!-- power supply -->
<g>
<path d="M695 688.6 Q692 688.4 690 689.6" fill="none" stroke="#222" stroke-width="1.2"/>
<path d="M683.4 685.2 Q685.8 684.2 688.6 685.4 Q690.6 688 689.4 692 Q687.6 697 688.6 702 Q690 708 689.4 713 Q689 717 687.4 719 Q685.2 717.6 684.4 713 Q683.6 708 684.4 702 Q685 697 683.4 692 Q682 688 683.4 685.2Z" fill="#1c1c1c"/>
<path d="M686.4 687 Q687.6 692 686 697 Q685 702 686.6 708 Q687.4 713 686.6 717" fill="none" stroke="#555" stroke-width="0.7"/>
<line x1="687.2" y1="718" x2="687.2" y2="741" stroke="#1a1a1a" stroke-width="1.6"/>
<path d="M695 686 L697.2 684.2 H716.2 L717.9 686 V694.4 L716.6 695.9 H696.2 L695 694.6 Z" fill="#262626"/>
<path d="M697.2 684.2 H716.2 L717.6 687 H695.6 Z" fill="#707070"/>
<rect x="702.6" y="689.6" width="11.2" height="2.7" fill="#a8a8a8"/>
<path d="M717.8 690 L724 691.2" stroke="#1a1a1a" stroke-width="2.4" fill="none"/>
<g fill="none" stroke="#1c1c1c" stroke-linecap="round">
<ellipse cx="729.4" cy="686" rx="8.6" ry="6" transform="rotate(18 729.4 686)" stroke-width="1.7"/>
<ellipse cx="730.2" cy="686.6" rx="6.8" ry="4.2" transform="rotate(24 730.2 686.6)" stroke-width="1.3"/>
<path d="M724 682.6 Q731 686 736.6 691 Q742 695.4 748 697.6" stroke-width="2"/>
<path d="M728 681 Q734 684.6 739 689.6 Q744 694 750 696" stroke-width="1.6"/>
<path d="M735 692 Q741 697.6 747 700.6 Q751.6 702.6 755 701.6" stroke-width="1.8"/>
<ellipse cx="751" cy="695.6" rx="7.6" ry="5" transform="rotate(28 751 695.6)" stroke-width="1.9"/>
<ellipse cx="750.4" cy="695" rx="5.4" ry="3" transform="rotate(34 750.4 695)" stroke-width="1.4"/>
<path d="M744 690.4 Q748.6 688 753 689.6" stroke-width="1.6"/>
<path d="M746 702.4 Q751 704.4 755.6 702.6" stroke-width="1.5"/>
</g>
</g>

<!-- webcam -->
<rect x="511" y="626.2" width="44" height="52.6" fill="#f4f4f6"/>
<g fill="#fff" stroke="#555" stroke-width="1.15" stroke-linejoin="round">
<path d="M519 658 L513.6 672 Q512.6 675.4 515.6 675.4 Q517.6 675.4 520 673.6 Q526 670.4 532 670.4 Q538 670.4 544 673.6 Q546.4 675.4 548.6 675.4 Q551.6 675.4 550.6 672 L545 658 Z" fill="#fbfbfc"/>
<path d="M525.6 663.4 Q523 665.6 521.6 667.4 Q521.4 668.8 523.2 668.6 Q527.6 666.6 532 666.6 Q536.6 666.6 541 668.6 Q542.8 668.8 542.6 667.4 Q541.2 665.6 538.6 663.4 Q532 665.4 525.6 663.4Z" fill="#fbfbfc" stroke-width="1"/>
<circle cx="532" cy="645.7" r="17.6" fill="#fbfbfc"/>
<circle cx="532" cy="645.7" r="9.7" fill="#fbfbfc"/>
<circle cx="532" cy="645.7" r="6.3" fill="#fbfbfc"/>
</g>
<rect x="530" y="658.2" width="4" height="1.1" fill="#777"/>
<line x1="533" y1="670.6" x2="533" y2="680" stroke="#333" stroke-width="1.25"/>

<!-- TV -->
<rect x="291.4" y="619.8" width="86" height="51.4" fill="#fff" stroke="#444" stroke-width="1.2"/>
<rect x="296.2" y="624.2" width="76.6" height="42.4" fill="#fff" stroke="#999" stroke-width="1.1"/>
<path d="M319.2 671.2 Q319.2 675 316 675 H310.4 Q308.6 675 308.6 676.8 Q308.6 678.6 310.4 678.6 H358 Q359.8 678.6 359.8 676.8 Q359.8 675 358 675 H352.6 Q349.6 675 349.6 671.2" fill="#fff" stroke="#444" stroke-width="1.1"/>
<line x1="310" y1="677.8" x2="358.4" y2="677.8" stroke="#555" stroke-width="1.4"/>
<!-- HDMI cable TV -> RX -->
<rect x="334.6" y="679" width="4.4" height="60" fill="#fff" stroke="#333" stroke-width="1.1"/>
</g>

<!-- ===== RX REAR PANEL ===== -->
<g id="rxrear">
<path d="M205.4 824 V743.5 Q205.4 741 207.9 741 H731.1 Q733.6 741 733.6 743.5 V824 Z" fill="#fff" stroke="#222" stroke-width="1.4"/>
<path d="M209.4 821 V744.4 H730 V821 Z" fill="none" stroke="#222" stroke-width="1.2"/>
<path d="M458 744.4 V748.4 H489.6 V744.4" fill="none" stroke="#222" stroke-width="1.1"/>
<g transform="translate(228.2 750.8)">
<rect x="1" y="1" width="59.6" height="49" fill="#fff" stroke="#111" stroke-width="2"/>
<path d="M6.8 42.2 V14.5 H17.5 V7 H23 V3.9 H39.3 V7 H44 V14.5 H54.8 V42.2 Z" fill="#fff" stroke="#111" stroke-width="1.3"/>
<rect x="3.8" y="3.7" width="12.5" height="6" fill="#111"/>
<rect x="46.3" y="3.7" width="11" height="6" fill="#111"/>
<path d="M5.5 5.4 h2 m1 0 h2.5 m1 0 h2.2 M5.5 7.6 h3 m1 0 h2 m1 0 h2" stroke="#ddd" stroke-width="0.9" fill="none"/>
<path d="M47.8 5.4 h3 m1 0 h2.5 M47.8 7.6 h2 m1 0 h4" stroke="#ddd" stroke-width="0.9" fill="none"/>
<g stroke="#111" stroke-width="1.6">
<line x1="14.1" y1="26.2" x2="14.1" y2="42.2"/><line x1="18.9" y1="26.2" x2="18.9" y2="42.2"/><line x1="23.7" y1="26.2" x2="23.7" y2="42.2"/><line x1="28.5" y1="26.2" x2="28.5" y2="42.2"/><line x1="33.3" y1="26.2" x2="33.3" y2="42.2"/><line x1="38.1" y1="26.2" x2="38.1" y2="42.2"/><line x1="42.9" y1="26.2" x2="42.9" y2="42.2"/><line x1="47.7" y1="26.2" x2="47.7" y2="42.2"/>
</g>
<path d="M60.6 46.4 H44.6 V49.4" fill="none" stroke="#111" stroke-width="1.2"/>
</g>
<text class="pl" x="259" y="813" text-anchor="middle">HDBaseT IN</text>
<use href="#hdmi" x="307" y="776.4"/>
<text class="pl" x="335.8" y="813" text-anchor="middle">HDMI OUT</text>
<use href="#usba" x="443" y="776.4"/><use href="#usba" x="509" y="776.4"/>
<use href="#usbsym" x="468" y="810"/><use href="#usbsym" x="533.6" y="810"/>
<use href="#jackR" x="585" y="788"/>
<text class="pl" x="585" y="813" text-anchor="middle">L/R OUT</text>
<use href="#rs232" x="609" y="774"/>
<text class="pl" x="618.8" y="767.2" text-anchor="middle">TX</text>
<text class="pl" x="646.8" y="767.2" text-anchor="middle">RX</text>
<use href="#gnd" x="632.7" y="764.1"/>
<text class="pl" x="632.6" y="813" text-anchor="middle">RS-232</text>
<use href="#dcjack" x="687.6" y="776.6"/>
<circle cx="687.6" cy="776.6" r="3.4" fill="#fff" stroke="#111" stroke-width="1"/><circle cx="687.6" cy="776.6" r="1.5" fill="#333"/>
<text class="pl" x="687.6" y="813" text-anchor="middle">DC 24V</text>
<use href="#pol" x="718" y="775.8"/>
</g>



<!-- ===== RX overlays ===== -->
<g id="rxover">
<use href="#rjU" transform="translate(258.6 746.4) scale(1 -1)"/>

<use href="#hdmiD" x="337" y="771"/>
<use href="#usbplug" x="533" y="742.4"/>
<line x1="585.5" y1="740" x2="585.5" y2="748" stroke="#333" stroke-width="1.25"/>
<use href="#miniD" x="585.5" y="743.4"/>
<use href="#grn" x="632.3" y="739"/>
<line x1="687.2" y1="738" x2="687.2" y2="746" stroke="#1a1a1a" stroke-width="1.5"/><rect x="686.2" y="747.4" width="2" height="2.6" fill="#333"/>
<!-- flash drive -->
<g transform="translate(451.2 753.2) rotate(-29)">
<rect x="-7" y="0" width="14" height="14.2" fill="#a9a49f" stroke="#111" stroke-width="1.4"/>
<rect x="-4.4" y="5.2" width="2.8" height="2.8" fill="#111"/><rect x="1.8" y="5.2" width="2.8" height="2.8" fill="#111"/>
<path d="M-8 0 V-36 Q-8 -44 0 -44 Q8 -44 8 -36 V0 Z" fill="#fff" stroke="#111" stroke-width="1.5"/>
<g stroke="#999" stroke-width="0.7" fill="#999">
<line x1="0" y1="-27" x2="0" y2="-12"/><path d="M0 -29 L-1.3 -26.4 L1.3 -26.4Z" stroke="none"/><circle cx="0" cy="-11.4" r="1.1" stroke="none"/>
<path d="M0 -16 L-2.6 -18.6 L-2.6 -21" fill="none"/><path d="M0 -14 L2.6 -16.6 L2.6 -19.4" fill="none"/>
</g>
</g>
</g>
</g>

<!-- ===== RX FRONT PANEL ===== -->
<g id="rxfront">
<path d="M205.4 923.4 V843 Q205.4 840 208.4 840 H730.6 Q733.6 840 733.6 843 V923.4 Z" fill="#fff" stroke="#222" stroke-width="1.4"/>
<line x1="208" y1="844" x2="731" y2="844" stroke="#222" stroke-width="1.2"/>
<path d="M441.6 923.4 V920 H498.4 V923.4" fill="#fff" stroke="#111" stroke-width="1.4"/>
<use href="#pwr" x="277.4" y="886.4"/>
<use href="#led" x="277.4" y="900"/><use href="#led" x="321.6" y="900"/>
<text class="pl" x="321.5" y="889.4" text-anchor="middle">LINK</text>
<use href="#jackR" x="431.5" y="887.8"/><use href="#jackR" x="482.8" y="887.8"/>
<text class="pl" x="431.4" y="869.3" text-anchor="middle" style="font-size:8.2px">IR IN</text>
<text class="pl" x="482.4" y="869.3" text-anchor="middle" style="font-size:8.2px">IR OUT</text>
<text class="pl" x="658.7" y="883.2" text-anchor="middle" style="font-size:8.5px">SERVICE</text>
<path d="M645.5 890.6 H672 Q673.4 890.6 673.4 892 V896.4 L670 901.2 H647.5 L644 896.4 V892 Q644 890.6 645.5 890.6Z" fill="#fff" stroke="#111" stroke-width="2.4"/>
<rect x="651.2" y="895" width="15" height="2.6" fill="#fff" stroke="#333" stroke-width="0.8"/>
<rect x="700" y="854.4" width="23" height="15" rx="3.5" fill="#fff" stroke="#333" stroke-width="1.1"/>
<text x="711.5" y="865.6" text-anchor="middle" style="font-size:10px;font-weight:bold;fill:#111">RX</text>
</g>



<!-- ===== bottom IR ===== -->
<g id="bottomir">
<g fill="none" stroke="#333" stroke-width="1.2">
<path d="M430.5 930 V969 H369"/>
<path d="M481.8 932 V969 H534"/>
</g>
<use href="#miniU" x="430.5" y="903.6"/>
<use href="#miniU" x="481.8" y="905.4"/>
<!-- receiver dome horizontal -->
<path d="M368 964 H360 Q353.2 964.2 353.2 970 Q353.2 976 360 976.6 H368 Q369.4 976.6 369.4 975 V965.4 Q369.4 964 368 964Z" fill="#8e2a27" stroke="#651b19" stroke-width="0.8"/>
<path d="M357 966.4 Q363 965.4 366 966" fill="none" stroke="#c05a55" stroke-width="1" opacity="0.7"/>
<g fill="none" stroke="#e02626" stroke-linecap="round">
<path d="M342 966.8 Q344.2 970.2 342 973.6" stroke-width="1.4"/><path d="M344.2 964.8 Q347.8 970.2 344.2 975.6" stroke-width="1.7"/>
</g>
<rect x="316.4" y="966.4" width="23.6" height="7.8" rx="1" fill="#1c1c1c"/>
<rect x="320.6" y="967.4" width="16.4" height="5.8" fill="#a6a6a6"/>
<circle cx="329.6" cy="970.3" r="2.3" fill="#e4e4e4"/>
<rect x="324" y="968" width="2" height="4.6" fill="#666"/><rect x="333" y="967.4" width="1.2" height="5.8" fill="#7a9a50"/>
<!-- blaster -->
<rect x="533.6" y="964.4" width="14" height="8.2" rx="1.6" fill="#2a2a2a"/>
<rect x="541" y="966.2" width="4.2" height="4.6" fill="#555" opacity="0.7"/>
<g fill="none" stroke="#e02626" stroke-linecap="round">
<path d="M554 965.6 Q556 968.6 554 971.8" stroke-width="1.8"/>
<path d="M556.8 962.6 Q560.6 968.6 556.8 974.8" stroke-width="2.1"/>
<path d="M559.8 959.8 Q565.6 968.6 559.8 977.6" stroke-width="2.4"/>
</g>
</g>

<g fill="#4a8fc8"><rect x="121" y="0" width="6.4" height="0.9" rx="0.4"/><rect x="145" y="0" width="6.4" height="0.9" rx="0.4"/><rect x="401" y="0" width="6.4" height="0.9" rx="0.4"/></g>
<!-- ===== LABELS ===== -->
<text class="hd" x="65.2" y="255.6">Transmitter</text>
<text class="hd" x="104.4" y="837.6">Receiver</text>
<text class="lb" x="394.5" y="33">Keyboard</text>
<text class="lb" x="584" y="61">Mouse</text>
<text class="lb" x="752" y="57.6">Printer</text>
<text class="lb" x="770" y="405.6">HDMI Matrix with</text>
<text class="lb" x="770" y="425.4">RS-232 function</text>
<text class="ls" x="366.6" y="469.2">Laptop 2 (with</text>
<text class="ls" x="366.6" y="488.2">USB-C port)</text>
<text class="lb" x="505.4" y="480.6">Speakers</text>
<text class="lb" x="624" y="492.4">IR Blaster</text>
<text class="lb" x="566.6" y="515.6">IR Receiver</text>
<text class="lb" x="575.6" y="541">Amplifier</text>
<text class="lb" x="728" y="526.6">PC or</text>
<text class="lb" x="690" y="546.6">Control System</text>
<text class="lb" x="132" y="543.6" style="font-style:italic;font-size:17.75px">CAT6A/7 cable</text>
<text class="ls" x="294.6" y="571">Laptop 1</text>
<text class="lb" x="277.6" y="610">TV or Monitor</text>
<text class="lb" x="459" y="621.8">USB Camera</text>
<text class="lb" x="669.6" y="666.8">Power Supply</text>
<text class="lb" x="363.6" y="703.8">USB Flash Drive</text>
<text class="lb" x="294" y="995">IR Receiver</text>
<text class="lb" x="510.8" y="996">IR Blaster</text>

</svg>
</body></html>
